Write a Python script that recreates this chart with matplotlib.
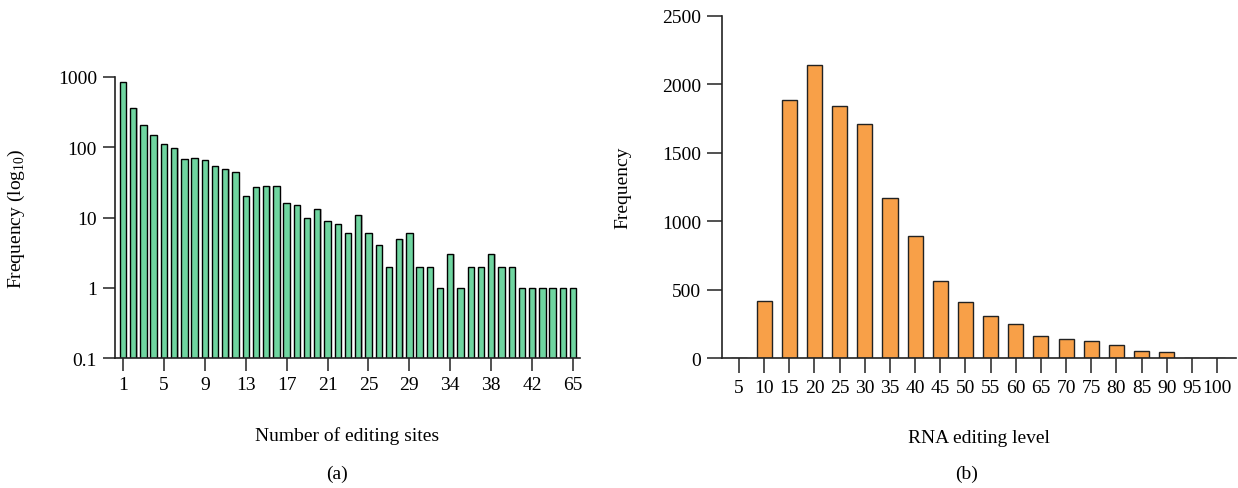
import matplotlib
matplotlib.use("Agg")
import matplotlib.pyplot as plt
import numpy as np

plt.rcParams["font.family"] = ["Liberation Serif", "DejaVu Serif"]
plt.rcParams["font.size"] = 14

# (a) number of editing sites per gene and how often each occurs
site_counts = list(range(1, 33)) + list(range(34, 43)) + [44, 47, 52, 65]
site_freq = [840, 362, 205, 151, 110, 96, 69, 70, 66, 54, 49, 44,
             20, 27, 28, 28, 16, 15, 10, 13, 9, 8, 6, 11,
             6, 4, 2, 5, 6, 2, 2, 1, 3, 1, 2, 2,
             3, 2, 2, 1, 1, 1, 1, 1, 1]
site_tick_labels = ["1", "5", "9", "13", "17", "21", "25", "29", "34", "38", "42", "65"]
site_tick_index = [0, 4, 8, 12, 16, 20, 24, 28, 32, 36, 40, 44]

# (b) distribution of RNA editing levels
levels = [5, 10, 15, 20, 25, 30, 35, 40, 45, 50, 55, 60, 65, 70, 75, 80, 85, 90, 95, 100]
level_freq = [0, 414, 1887, 2142, 1845, 1709, 1171, 891, 565, 409, 307, 251,
              158, 139, 122, 92, 51, 46, 0, 0]

W, H = 1238, 489
fig = plt.figure(figsize=(W / 100, H / 100), dpi=100)

def px_axes(x0, x1, y_top, y_bot):
    return fig.add_axes([x0 / W, 1 - y_bot / H, (x1 - x0) / W, (y_bot - y_top) / H])

green = "#6fd5a0"
orange = "#f8a048"

# ---- panel (a)
ax1 = px_axes(115, 580, 78, 359)
xa = np.arange(len(site_freq))
ax1.bar(xa + 0.12, site_freq, width=0.62, color="#bdbdbd", edgecolor="none", zorder=1)
ax1.bar(xa, site_freq, width=0.62, color=green, edgecolor="black", linewidth=1.0, zorder=2)
ax1.set_yscale("log")
ax1.set_ylim(0.1, 1000)
ax1.set_xlim(-0.78, len(site_freq) - 1 + 0.68)
ax1.set_yticks([0.1, 1, 10, 100, 1000])
ax1.set_yticklabels(["0.1", "1", "10", "100", "1000"])
ax1.yaxis.set_minor_locator(matplotlib.ticker.NullLocator())
ax1.set_xticks(site_tick_index)
ax1.set_xticklabels(site_tick_labels)
ax1.set_ylabel("Frequency (log$_{\\mathregular{10}}$)", labelpad=22)
ax1.set_xlabel("Number of editing sites", labelpad=24)

# ---- panel (b)
ax2 = px_axes(722, 1236, 17, 359)
xb = np.arange(len(levels))
ax2.bar(xb, level_freq, width=0.6, color=orange, edgecolor="#222222", linewidth=1.0)
ax2.set_ylim(0, 2500)
ax2.set_xlim(-0.676, len(levels) - 1 + 0.755)
ax2.set_yticks([0, 500, 1000, 1500, 2000, 2500])
ax2.set_xticks(xb)
ax2.set_xticklabels([str(v) for v in levels])
ax2.set_ylabel("Frequency", labelpad=22)
ax2.set_xlabel("RNA editing level", labelpad=24)

for ax, tl in ((ax1, 9), (ax2, 11)):
    for s in ("top", "right"):
        ax.spines[s].set_visible(False)
    for s in ("left", "bottom"):
        ax.spines[s].set_linewidth(1.2)
        ax.spines[s].set_color("#222222")
    ax.tick_params(axis="both", direction="out", length=tl, width=1.1, color="#222222", pad=4)

fig.text(337 / W, 1 - 474 / H, "(a)", ha="center", va="center")
fig.text(967 / W, 1 - 474 / H, "(b)", ha="center", va="center")

fig.savefig("out.png", dpi=100)
